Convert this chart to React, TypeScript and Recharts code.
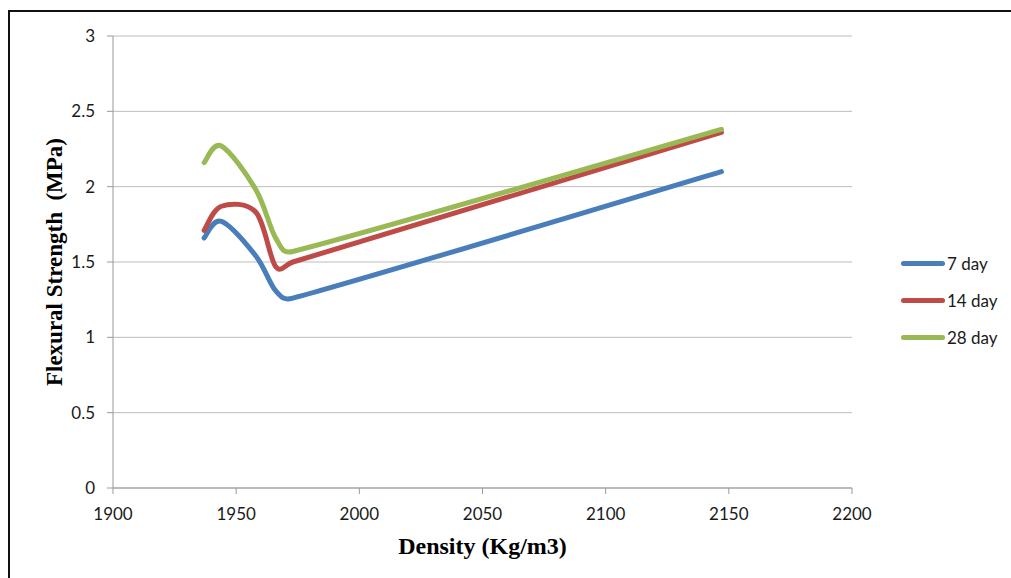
import React from 'react';
import { LineChart, Line, XAxis, YAxis, CartesianGrid, Legend } from 'recharts';

// densities (Kg/m3) shared by all three curing ages
const density = [1937, 1944, 1958, 1966, 1973, 2147];

// flexural strength (MPa)
const strength7 = [1.66, 1.77, 1.54, 1.31, 1.26, 2.10];
const strength14 = [1.71, 1.87, 1.83, 1.47, 1.50, 2.36];
const strength28 = [2.16, 2.27, 1.98, 1.66, 1.57, 2.38];

const xTicks = [1900, 1950, 2000, 2050, 2100, 2150, 2200];
const yTicks = [0, 0.5, 1, 1.5, 2, 2.5, 3];

const series = [
    { key: 's7', name: '7 day', color: '#4A7EBB' },
    { key: 's14', name: '14 day', color: '#BE4B48' },
    { key: 's28', name: '28 day', color: '#98B954' },
];

const rows = density.map((d, i) => ({
    density: d,
    s7: strength7[i],
    s14: strength14[i],
    s28: strength28[i],
}));

// Excel-like smoothed line: cubic beziers, tangent = next - prev,
// control distance = |tangent| / 6, clipped to half of the segment
function excelSmooth(context: any) {
    let pts: number[][] = [];
    const dist = (a: number[], b: number[]) => Math.hypot(b[0] - a[0], b[1] - a[1]);
    const ctrl = (from: number[], a: number[], b: number[], seg: number, sign: number) => {
        const tx = b[0] - a[0];
        const ty = b[1] - a[1];
        const len = Math.hypot(tx, ty) || 1;
        const d = Math.min(len / 6, seg / 2);
        return [from[0] + sign * tx / len * d, from[1] + sign * ty / len * d];
    };
    return {
        areaStart() {},
        areaEnd() {},
        lineStart() { pts = []; },
        point(x: number, y: number) { pts.push([+x, +y]); },
        lineEnd() {
            const n = pts.length;
            if (!n) return;
            context.moveTo(pts[0][0], pts[0][1]);
            for (let i = 0; i < n - 1; i++) {
                const p0 = pts[Math.max(i - 1, 0)];
                const p1 = pts[i];
                const p2 = pts[i + 1];
                const p3 = pts[Math.min(i + 2, n - 1)];
                const seg = dist(p1, p2);
                const c1 = ctrl(p1, p0, p2, seg, 1);
                const c2 = ctrl(p2, p1, p3, seg, -1);
                context.bezierCurveTo(c1[0], c1[1], c2[0], c2[1], p2[0], p2[1]);
            }
        },
    };
}

const tickStyle = { fontSize: 17, fill: '#1a1a1a', fontFamily: 'Lato' };
const titleFont = '"Liberation Serif", "Times New Roman", serif';

function LegendBox() {
    return (
        <div style={{ fontFamily: 'Lato', fontSize: 17, color: '#1a1a1a' }}>
            {series.map((s) => (
                <div key={s.key} style={{ display: 'flex', alignItems: 'center', height: 37 }}>
                    <div style={{ width: 44, height: 5, borderRadius: 3, background: s.color, marginRight: 2 }} />
                    <span>{s.name}</span>
                </div>
            ))}
        </div>
    );
}

export default function App() {
    return (
        <div style={{ position: 'fixed', left: 0, top: 0, width: 1011, height: 578, overflow: 'hidden', background: '#fff' }}>
            <div style={{ position: 'absolute', left: 8, top: 10, width: 1100, height: 700, border: '2px solid #111' }} />
            <div style={{ position: 'absolute', left: 0, top: 0 }}>
                <LineChart width={1011} height={578} data={rows} margin={{ top: 36, right: 159, left: 53, bottom: 60 }}>
                    <CartesianGrid horizontal vertical={false} stroke="#bcbcbc" strokeWidth={1} />
                    <XAxis
                        dataKey="density"
                        type="number"
                        domain={[1900, 2200]}
                        ticks={xTicks}
                        interval={0}
                        height={30}
                        tickSize={6}
                        tickMargin={14}
                        tick={tickStyle}
                        stroke="#999"
                        label={{
                            content: ({ viewBox }: any) => (
                                <text
                                    x={viewBox.x + viewBox.width / 2}
                                    y={554}
                                    textAnchor="middle"
                                    style={{ fontFamily: titleFont, fontWeight: 'bold', fontSize: 24, fill: '#000' }}
                                >
                                    Density (Kg/m3)
                                </text>
                            ),
                        }}
                    />
                    <YAxis
                        type="number"
                        domain={[0, 3]}
                        ticks={yTicks}
                        interval={0}
                        width={60}
                        tickSize={6}
                        tickMargin={12}
                        tick={tickStyle}
                        stroke="#999"
                        label={{
                            content: ({ viewBox }: any) => {
                                const cx = 62;
                                const cy = viewBox.y + viewBox.height / 2;
                                return (
                                    <text
                                        x={cx}
                                        y={cy}
                                        transform={`rotate(-90 ${cx} ${cy})`}
                                        textAnchor="middle"
                                        style={{ fontFamily: titleFont, fontWeight: 'bold', fontSize: 23, fill: '#000', whiteSpace: 'pre' }}
                                    >
                                        Flexural Strength  (MPa)
                                    </text>
                                );
                            },
                        }}
                    />
                    <Legend
                        layout="horizontal"
                        align="center"
                        verticalAlign="middle"
                        wrapperStyle={{ position: 'absolute', left: 901, top: 245, width: 110 }}
                        content={<LegendBox />}
                    />
                    {series.map((s) => (
                        <Line
                            key={s.key}
                            dataKey={s.key}
                            name={s.name}
                            type={excelSmooth as any}
                            stroke={s.color}
                            strokeWidth={5}
                            strokeLinecap="round"
                            strokeLinejoin="round"
                            dot={false}
                            activeDot={false}
                            isAnimationActive={false}
                        />
                    ))}
                </LineChart>
            </div>
        </div>
    );
}
